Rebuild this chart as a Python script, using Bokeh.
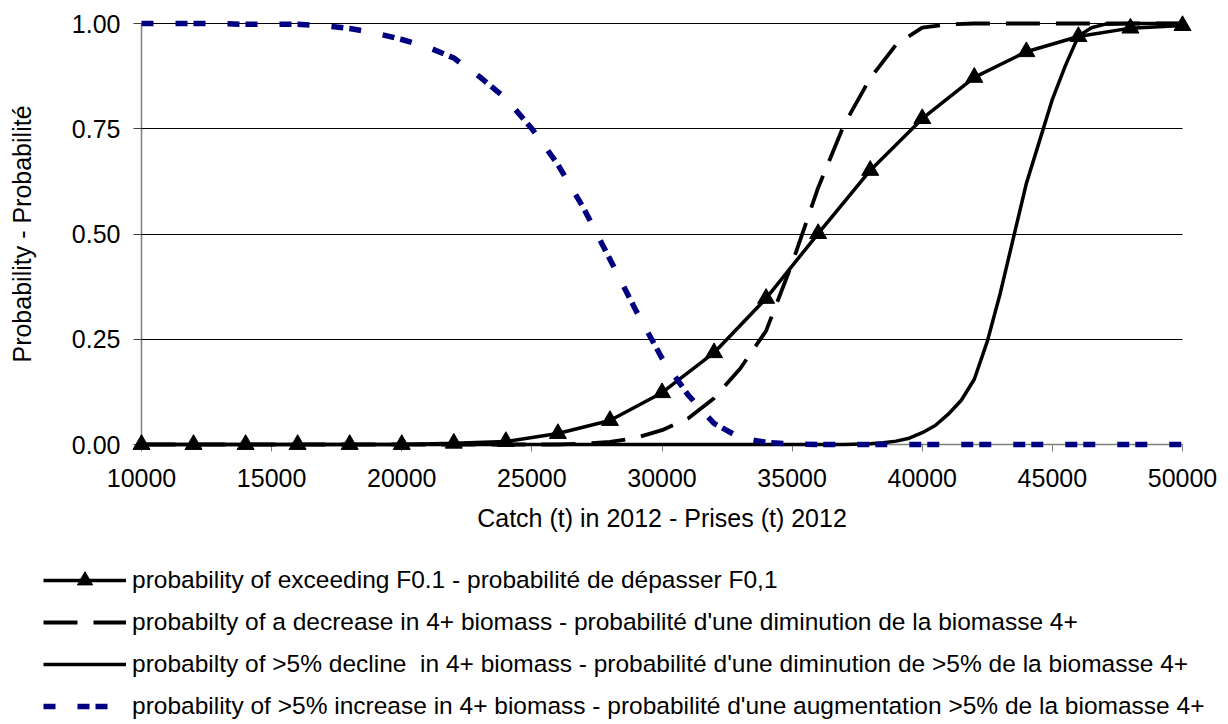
from bokeh.plotting import figure
from bokeh.models import Range1d, FixedTicker, Legend, LegendItem, CustomJSTickFormatter
from bokeh.embed import file_html
from bokeh.resources import INLINE

# ---- data ----
catch_f01 = [10000, 12000, 14000, 16000, 18000, 20000, 22000, 24000, 26000, 28000,
             30000, 32000, 34000, 36000, 38000, 40000, 42000, 44000, 46000, 48000, 50000]
p_exceed_f01 = [0, 0, 0, 0, 0, 0, 0.003, 0.007, 0.026, 0.057,
                0.123, 0.218, 0.347, 0.501, 0.651, 0.774, 0.872, 0.933, 0.969, 0.989, 0.995]

catch_fine = [10000, 11000, 12000, 13000, 14000, 15000, 16000, 17000, 18000, 19000,
              20000, 21000, 22000, 23000, 24000, 25000, 26000, 27000, 28000, 29000,
              30000, 31000, 32000, 33000, 34000, 35000, 36000, 37000, 38000, 39000,
              40000, 41000, 42000, 43000, 44000, 45000, 46000, 47000, 48000, 49000, 50000]
p_decrease = [0, 0, 0, 0, 0, 0, 0, 0, 0, 0,
              0, 0, 0, 0, 0, 0, 0, 0.002, 0.006, 0.016,
              0.034, 0.062, 0.11, 0.18, 0.27, 0.43, 0.61, 0.76, 0.87, 0.95,
              0.99, 0.998, 1, 1, 1, 1, 1, 1, 1, 1, 1]
p_increase = [1.0, 1.0, 1.0, 1.0, 0.998, 0.998, 0.998, 0.995, 0.988, 0.977,
              0.962, 0.944, 0.918, 0.873, 0.822, 0.75, 0.665, 0.56, 0.44, 0.318,
              0.205, 0.118, 0.05, 0.016, 0.005, 0.001, 0, 0, 0, 0,
              0, 0, 0, 0, 0, 0, 0, 0, 0, 0, 0]

catch_decline = [10000, 15000, 20000, 25000, 30000, 35000, 37000, 38000, 38500, 39000,
                 39500, 40000, 40500, 41000, 41500, 42000, 42500, 43000, 43500, 44000,
                 44500, 45000, 45500, 46000, 46500, 47000, 48000, 49000, 50000]
p_decline5 = [0, 0, 0, 0, 0, 0, 0, 0.002, 0.004, 0.008,
              0.015, 0.028, 0.045, 0.072, 0.105, 0.155, 0.245, 0.36, 0.49, 0.62,
              0.72, 0.82, 0.9, 0.97, 0.99, 0.998, 1, 1, 1]

labels = [
    "probability of exceeding F0.1 - probabilité de dépasser F0,1",
    "probabilty of a decrease in 4+ biomass - probabilité d'une diminution de la biomasse 4+",
    "probabilty of >5% decline  in 4+ biomass - probabilité d'une diminution de >5% de la biomasse 4+",
    "probability of >5% increase in 4+ biomass - probabilité d'une augmentation >5% de la biomasse 4+",
]
x_ticks = [10000, 15000, 20000, 25000, 30000, 35000, 40000, 45000, 50000]
y_ticks = [0, 0.25, 0.5, 0.75, 1.0]
x_title = "Catch (t) in 2012 - Prises (t) 2012"
y_title = "Probability - Probabilité"

# ---- layout: the frame covers the whole canvas so nothing is clipped ----
W, H = 1228, 724
X0_PX, X1_PX = 141, 1182     # canvas px of x=10000 and x=50000
Y1_PX, Y0_PX = 23, 444       # canvas px of y=1 and y=0
ux = 40000 / (X1_PX - X0_PX)
uy = 1.0 / (Y0_PX - Y1_PX)

FONT = "Liberation Sans"
FS = "25px"
LEG_FS = "24.5px"
AXIS_GREY = "#808080"

p = figure(width=W, height=H, output_backend="svg", toolbar_location=None,
           x_range=Range1d(10000 - X0_PX * ux, 50000 + (W - X1_PX) * ux),
           y_range=Range1d(0 - (H - Y0_PX) * uy, 1 + Y1_PX * uy),
           min_border_left=0, min_border_right=0, min_border_top=0, min_border_bottom=0)
p.outline_line_color = None
p.background_fill_color = "white"
p.border_fill_color = "white"

# x axis placed at y=0
xa = p.xaxis[0]
xa.fixed_location = 0
xa.bounds = (10000, 50000)
xa.ticker = FixedTicker(ticks=x_ticks)
xa.axis_line_color = AXIS_GREY
xa.axis_line_width = 1.5
xa.major_tick_line_color = AXIS_GREY
xa.major_tick_in = 0
xa.major_tick_out = 7
xa.minor_tick_line_color = None
xa.major_label_standoff = 17
xa.major_label_text_font = FONT
xa.major_label_text_font_size = FS
xa.major_label_text_color = "black"
xa.axis_label = x_title
xa.axis_label_text_font = FONT
xa.axis_label_text_font_size = FS
xa.axis_label_text_font_style = "normal"
xa.axis_label_text_color = "black"
xa.axis_label_standoff = 14
xa.level = "underlay"

# y axis placed at x=10000
ya = p.yaxis[0]
ya.fixed_location = 10000
ya.bounds = (0, 1)
ya.ticker = FixedTicker(ticks=y_ticks)
ya.axis_line_color = AXIS_GREY
ya.axis_line_width = 1.5
ya.major_tick_line_color = "#404040"
ya.major_tick_in = 0
ya.major_tick_out = 8
ya.minor_tick_line_color = None
ya.major_label_standoff = 13
ya.formatter = CustomJSTickFormatter(code="return tick.toFixed(2);")
ya.major_label_text_font = FONT
ya.major_label_text_font_size = FS
ya.major_label_text_color = "black"
ya.axis_label = y_title
ya.axis_label_text_font = FONT
ya.axis_label_text_font_size = FS
ya.axis_label_text_font_style = "normal"
ya.axis_label_text_color = "black"
ya.axis_label_standoff = 33
ya.level = "underlay"

p.xgrid.visible = False
p.ygrid.ticker = FixedTicker(ticks=[0.25, 0.5, 0.75, 1.0])
p.ygrid.grid_line_color = "black"
p.ygrid.grid_line_width = 1
p.ygrid.cross_bounds = (10000, 50000)

# ---- series ----
r1l = p.line(catch_f01, p_exceed_f01, line_color="black", line_width=3.5)
r1m = p.scatter(catch_f01, p_exceed_f01, marker="triangle", size=17,
                fill_color="black", line_color="black")
r2 = p.line(catch_fine, p_decrease, line_color="black", line_width=3.8,
            line_dash="34 16")
r3 = p.line(catch_decline, p_decline5, line_color="black", line_width=3.5)
r4 = p.line(catch_fine, p_increase, line_color="#000080", line_width=5.5,
            line_dash="12 22 12 6")

legend = Legend(
    items=[LegendItem(label=labels[0], renderers=[r1l, r1m]),
           LegendItem(label=labels[1], renderers=[r2]),
           LegendItem(label=labels[2], renderers=[r3]),
           LegendItem(label=labels[3], renderers=[r4])],
    location=(43, -1),
    orientation="vertical",
    border_line_color=None, background_fill_alpha=0,
    padding=0, margin=0, spacing=4,
    glyph_width=83, glyph_height=38, label_height=20,
    label_standoff=6,
    label_text_font=FONT, label_text_font_size=LEG_FS, label_text_color="black",
)
p.add_layout(legend)

open("out.html", "w").write(file_html(p, INLINE))
